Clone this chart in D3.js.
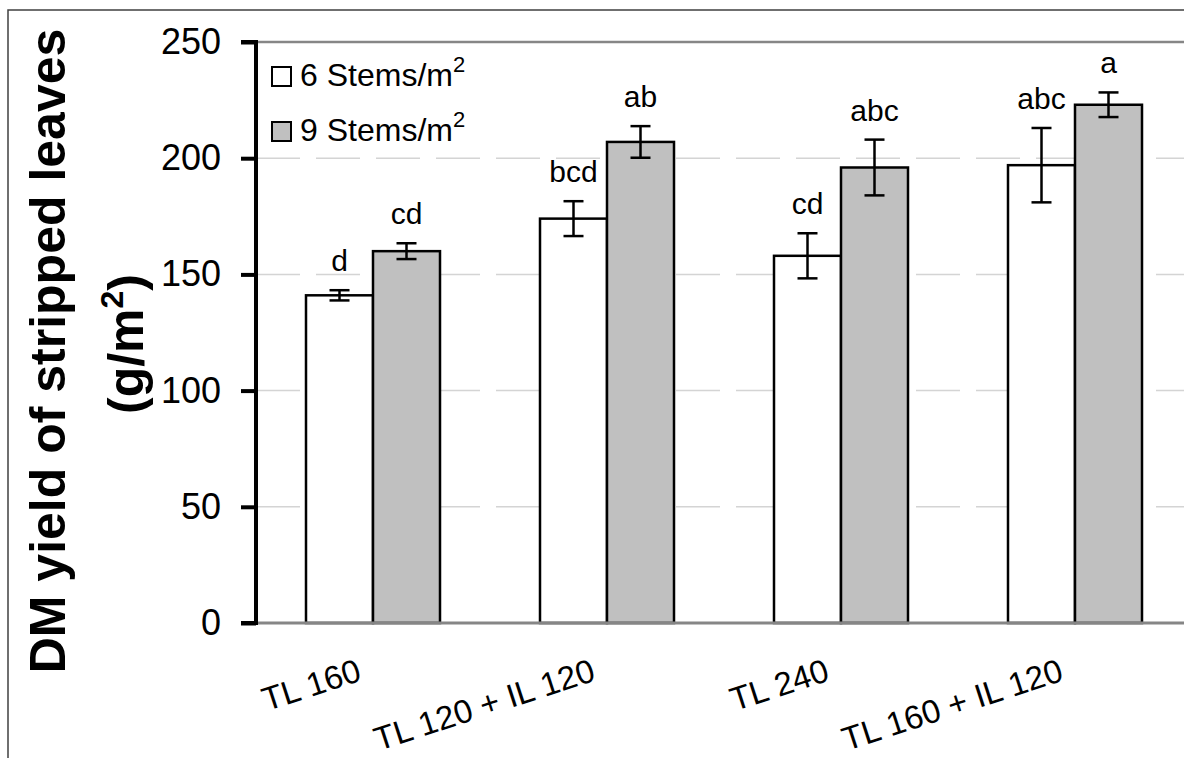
<!DOCTYPE html>
<html><head><meta charset="utf-8">
<script src="https://cdn.jsdelivr.net/npm/d3@7"></script>
<style>
body{margin:0;background:#fff;}
svg{display:block;font-family:"Liberation Sans",Arial,sans-serif;}
</style></head>
<body><svg id="c" width="1184" height="758"></svg>
<script>
const categories = ["TL 160", "TL 120 + IL 120", "TL 240", "TL 160 + IL 120"];
const seriesNames = ["6 Stems/m", "9 Stems/m"];
const sixStems = [141, 174, 158, 197];
const nineStems = [160, 207, 196, 223];
const sixErr = [2.2, 7.5, 9.7, 16];
const nineErr = [3.4, 6.8, 12, 5.3];
const sixLetters = ["d", "bcd", "cd", "abc"];
const nineLetters = ["cd", "ab", "abc", "a"];
const yTicks = [0, 50, 100, 150, 200, 250];

const fills = ["#ffffff", "#c0c0c0"];
const svg = d3.select("#c");
const L = 256, R = 1192, T = 42, B = 623;

const y = d3.scaleLinear().domain([0, 250]).range([B, T]);
const x = d3.scaleBand().domain(categories).range([L, R]).padding(0);
const bw = x.bandwidth();
const xs = d3.scaleBand().domain(seriesNames).range([(bw - 134) / 2, (bw + 134) / 2]).padding(0);

// outer frame
svg.append("rect").attr("x", 8).attr("y", 10).attr("width", 1300).attr("height", 900)
  .attr("fill", "none").attr("stroke", "#404040").attr("stroke-width", 1.5);

// gridlines
svg.append("g").selectAll("line").data(yTicks.filter(v => v > 0 && v < 250)).join("line")
  .attr("x1", L).attr("x2", R).attr("y1", d => y(d)).attr("y2", d => y(d))
  .attr("stroke", "#d4d4d4").attr("stroke-width", 1.5).attr("stroke-dasharray", "44,16");
// plot top border
svg.append("line").attr("x1", L).attr("x2", R).attr("y1", y(250)).attr("y2", y(250))
  .attr("stroke", "#868686").attr("stroke-width", 2.5);

// data rows
const rows = [];
categories.forEach((c, i) => {
  rows.push({cat: c, s: 0, v: sixStems[i], e: sixErr[i], l: sixLetters[i]});
  rows.push({cat: c, s: 1, v: nineStems[i], e: nineErr[i], l: nineLetters[i]});
});

// bars
svg.append("g").selectAll("rect").data(rows).join("rect")
  .attr("x", d => x(d.cat) + xs(seriesNames[d.s]))
  .attr("y", d => y(d.v))
  .attr("width", xs.bandwidth())
  .attr("height", d => y(0) - y(d.v))
  .attr("fill", d => fills[d.s]).attr("stroke", "#000").attr("stroke-width", 2.5);

// x axis baseline
svg.append("line").attr("x1", L).attr("x2", R).attr("y1", y(0)).attr("y2", y(0))
  .attr("stroke", "#868686").attr("stroke-width", 3);

// error bars
const eg = svg.append("g").attr("stroke", "#000").attr("stroke-width", 2.5);
rows.forEach(d => {
  const cx = x(d.cat) + xs(seriesNames[d.s]) + xs.bandwidth() / 2;
  eg.append("line").attr("x1", cx).attr("x2", cx).attr("y1", y(d.v - d.e)).attr("y2", y(d.v + d.e));
  eg.append("line").attr("x1", cx - 10).attr("x2", cx + 10).attr("y1", y(d.v - d.e)).attr("y2", y(d.v - d.e));
  eg.append("line").attr("x1", cx - 10).attr("x2", cx + 10).attr("y1", y(d.v + d.e)).attr("y2", y(d.v + d.e));
});

// letters
svg.append("g").selectAll("text").data(rows).join("text")
  .attr("x", d => x(d.cat) + xs(seriesNames[d.s]) + xs.bandwidth() / 2)
  .attr("y", d => y(d.v + d.e) - 19)
  .attr("text-anchor", "middle").attr("font-size", 30).attr("fill", "#000")
  .text(d => d.l);

// y axis
const yAxis = d3.axisLeft(y).tickValues(yTicks).tickSize(15).tickPadding(20);
const ga = svg.append("g").attr("transform", `translate(${L},0)`).call(yAxis);
ga.select(".domain").attr("stroke", "#000").attr("stroke-width", 4).attr("d", `M-15,${T}H0V${B}H-15`);
ga.selectAll(".tick line").attr("stroke", "#000").attr("stroke-width", 4);
ga.selectAll(".tick text").attr("font-size", 36).attr("fill", "#000")
  .attr("font-family", "'Liberation Sans',Arial,sans-serif");

// x labels
svg.append("g").selectAll("text").data(categories).join("text")
  .attr("transform", d => `translate(${x(d) + bw / 2 - 10},680) rotate(-18)`)
  .attr("text-anchor", "end").attr("font-size", 33).attr("fill", "#000")
  .text(d => d);

// y title
svg.append("text").attr("transform", "translate(65,351) rotate(-90)")
  .attr("text-anchor", "middle").attr("font-size", 50).attr("font-weight", "bold")
  .text("DM yield of stripped leaves");
const t2 = svg.append("text").attr("transform", "translate(143,344) rotate(-90)")
  .attr("text-anchor", "middle").attr("font-size", 50).attr("font-weight", "bold");
t2.append("tspan").text("(g/m");
t2.append("tspan").attr("font-size", 32).attr("dy", -20).text("2");
t2.append("tspan").attr("dy", 20).text(")");

// legend
const lg = svg.append("g");
seriesNames.forEach((s, i) => {
  const yy = 67 + i * 55;
  lg.append("rect").attr("x", 272).attr("y", yy).attr("width", 19).attr("height", 19)
    .attr("fill", fills[i]).attr("stroke", "#000").attr("stroke-width", 2);
  const t = lg.append("text").attr("x", 300).attr("y", yy + 19).attr("font-size", 32).attr("fill", "#000");
  t.append("tspan").text(s);
  t.append("tspan").attr("font-size", 22).attr("dy", -14).text("2");
});
</script></body></html>
